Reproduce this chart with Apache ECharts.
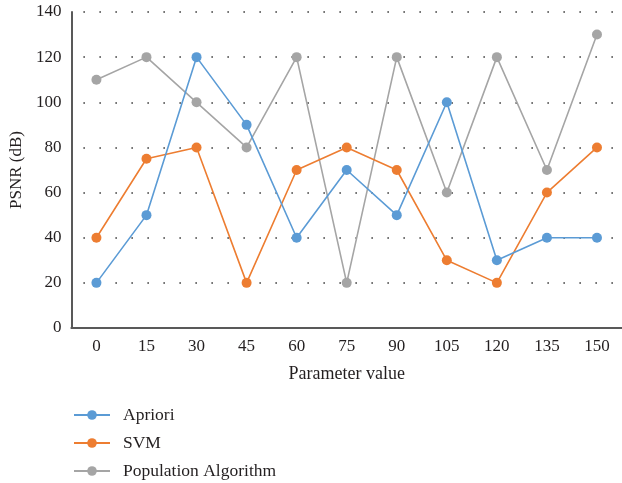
<!DOCTYPE html>
<html>
<head>
<meta charset="utf-8">
<script src="https://cdn.jsdelivr.net/npm/echarts@6/dist/echarts.min.js"></script>
<style>
  html, body { margin: 0; padding: 0; background: #fff; }
  #chart { width: 622px; height: 483px; }
</style>
</head>
<body>
<div id="chart"></div>
<script>
// Parameter values along the x axis
const categories = ['0', '15', '30', '45', '60', '75', '90', '105', '120', '135', '150'];

// PSNR (dB) for each method
const apriori    = [20, 50, 120, 90, 40, 70, 50, 100, 30, 40, 40];
const svm        = [40, 75, 80, 20, 70, 80, 70, 30, 20, 60, 80];
const population = [110, 120, 100, 80, 120, 20, 120, 60, 120, 70, 130];

const seriesNames = ['Apriori', 'SVM', 'Population Algorithm'];
const seriesColors = ['#5B9BD5', '#ED7D31', '#A5A5A5'];
const seriesData = [apriori, svm, population];

const FONT = 'Liberation Serif';
const TEXT = '#231f20';

const chart = echarts.init(document.getElementById('chart'), null, { renderer: 'canvas' });

chart.setOption({
  animation: false,
  backgroundColor: '#ffffff',
  textStyle: { fontFamily: FONT },
  grid: { left: 71, right: -3, top: 12, bottom: 155 },
  legend: {
    orient: 'vertical',
    left: 68,
    top: 401,
    height: 120,
    itemWidth: 36,
    itemHeight: 12,
    itemGap: 10,
    data: seriesNames,
    textStyle: { fontFamily: FONT, fontSize: 17.5, color: TEXT, padding: [0, 0, 0, 8] }
  },
  xAxis: {
    type: 'category',
    data: categories,
    boundaryGap: true,
    name: 'Parameter value',
    nameLocation: 'middle',
    nameGap: 37,
    nameTextStyle: { fontFamily: FONT, fontSize: 18, color: TEXT },
    axisLine: { show: true, lineStyle: { color: '#595959', width: 2 } },
    axisTick: { show: false },
    axisLabel: { fontFamily: FONT, fontSize: 17, color: TEXT, margin: 10 },
    splitLine: { show: false }
  },
  yAxis: {
    type: 'value',
    min: 0,
    max: 140,
    interval: 20,
    name: 'PSNR (dB)',
    nameLocation: 'middle',
    nameGap: 46,
    nameRotate: 90,
    nameTextStyle: { fontFamily: FONT, fontSize: 17, color: TEXT },
    axisLine: { show: true, lineStyle: { color: '#595959', width: 2 } },
    axisTick: { show: false },
    axisLabel: { fontFamily: FONT, fontSize: 17, color: TEXT, margin: 10 },
    splitLine: {
      show: true,
      lineStyle: { color: '#333', width: 1.5, type: [1.5, 14.5], dashOffset: -12 }
    }
  },
  series: seriesData.map((d, i) => ({
    name: seriesNames[i],
    type: 'line',
    data: d,
    symbol: 'circle',
    symbolSize: 10,
    z: 3 - i,
    itemStyle: { color: seriesColors[i] },
    lineStyle: { color: seriesColors[i], width: 1.6 }
  }))
});
</script>
</body>
</html>
